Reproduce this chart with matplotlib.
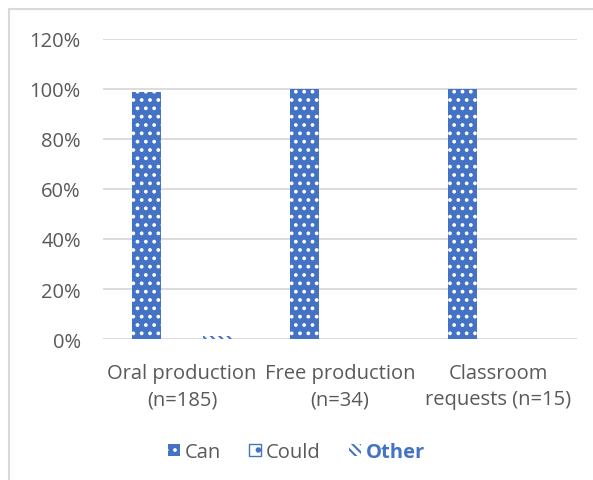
import matplotlib
matplotlib.use("Agg")
import matplotlib.pyplot as plt
from matplotlib.patches import Patch
from matplotlib.lines import Line2D
import numpy as np

categories = ["Oral production\n(n=185)", "Free production\n(n=34)", "Classroom\nrequests (n=15)"]
series_names = ["Can", "Could", "Other"]
can_vals = [0.99, 1.00, 1.00]
could_vals = [0.0, 0.0, 0.0]
other_vals = [0.014, 0.0, 0.0]
yticks = [0, 0.2, 0.4, 0.6, 0.8, 1.0, 1.2]
ytick_labels = ["0%", "20%", "40%", "60%", "80%", "100%", "120%"]

BLUE = "#4472C4"
GRAY_TXT = "#595959"
GRID = "#D9D9D9"

plt.rcParams['font.family'] = ['Open Sans', 'DejaVu Sans']
plt.rcParams['hatch.linewidth'] = 1.5

W, H = 593, 481
fig = plt.figure(figsize=(W/100, H/100), dpi=100)
ax = fig.add_axes([103/W, 1-340/H, 474/W, 300/H])

x = np.arange(len(categories))
off = 0.222
bw = 0.184

ax.bar(x - off, can_vals, bw, facecolor=BLUE, edgecolor="white", linewidth=0, hatch="..", zorder=3)
ax.bar(x, could_vals, bw, facecolor="white", edgecolor=BLUE, linewidth=0, hatch=".", zorder=3)
ax.bar(x + off, other_vals, bw, facecolor="white", edgecolor=BLUE, linewidth=0, hatch="\\\\\\\\", zorder=3)

ax.set_xlim(-0.5, 2.5)
ax.set_ylim(0, 1.2)
ax.set_yticks(yticks)
ax.set_yticklabels(ytick_labels)
ax.set_xticks(x)
ax.set_xticklabels(categories)
ax.yaxis.grid(True, color=GRID, linewidth=1.3, zorder=0)
ax.set_axisbelow(True)
for s in ax.spines.values():
    s.set_visible(False)
ax.tick_params(axis='both', length=0, colors=GRAY_TXT, labelsize=14.5)
ax.tick_params(axis='y', pad=16)
ax.tick_params(axis='x', pad=17)
for t in ax.get_xticklabels():
    t.set_linespacing(1.45)

# legend
handles = [
    Patch(facecolor=BLUE, edgecolor="white", hatch="..", linewidth=0),
    Patch(facecolor="white", edgecolor=BLUE, hatch=".", linewidth=1),
    Patch(facecolor="white", edgecolor=BLUE, hatch="\\\\\\\\", linewidth=0),
]
leg = fig.legend(handles, series_names, loc="center", bbox_to_anchor=(0.5, 1-453/H),
                 ncol=3, frameon=False, fontsize=14.5, handlelength=0.6, handleheight=0.6,
                 handletextpad=0.25, columnspacing=1.4)
for i, t in enumerate(leg.get_texts()):
    t.set_color(GRAY_TXT)
leg.get_texts()[2].set_color(BLUE)
leg.get_texts()[2].set_fontweight("bold")

# outer chart frame
fig.add_artist(Line2D([9/W, 1], [1-10/H, 1-10/H], color=GRID, linewidth=1.5, transform=fig.transFigure))
fig.add_artist(Line2D([9/W, 9/W], [0, 1-10/H], color=GRID, linewidth=1.5, transform=fig.transFigure))

fig.savefig("out.png", dpi=100, facecolor="white")
